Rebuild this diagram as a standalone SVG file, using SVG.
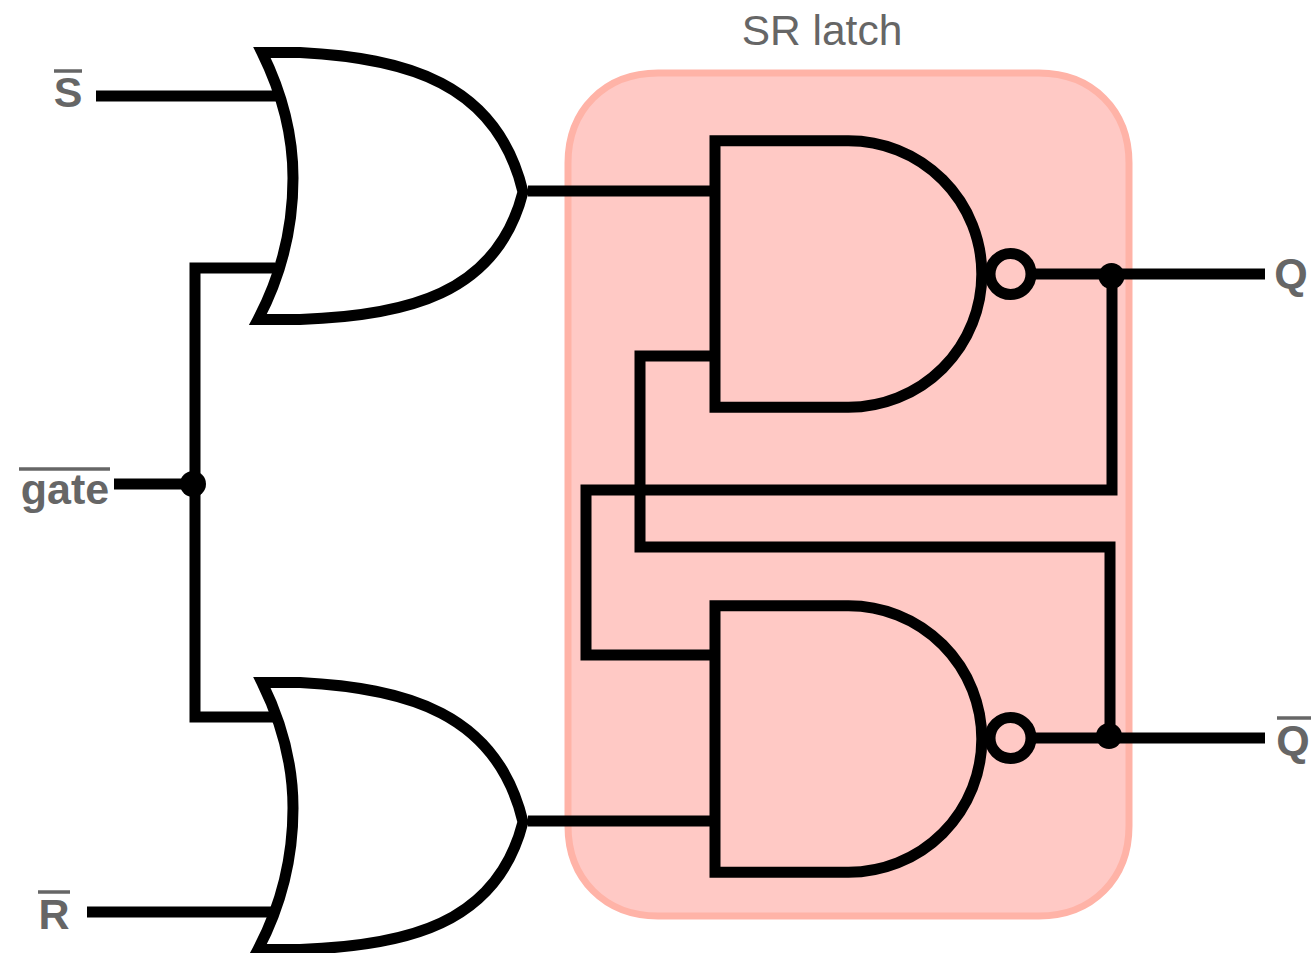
<svg xmlns="http://www.w3.org/2000/svg" width="1315" height="953" viewBox="0 0 1315 953">
<style>
.w{fill:none;stroke:#000;stroke-width:11;stroke-linejoin:miter;stroke-linecap:butt}
.g{fill:#fff;stroke:#000;stroke-width:11;stroke-linejoin:miter}
.n{fill:none;stroke:#000;stroke-width:11;stroke-linejoin:miter}
.d{fill:#000}
.l{font-family:"Liberation Sans",Arial,sans-serif;font-size:43px;font-weight:bold;fill:#666;text-anchor:middle}
.o{stroke:#666;stroke-width:3.5}
</style>
<defs>
<path id="orShape" d="M262,52.5 H300 C405,58 497,82 523,192 C497,295 405,316 300,319.5 H258 C283,272 293,225 293,178 C293,135 283,95 262,52.5 Z"/>
<path id="nandShape" d="M715,0 H848.5 A133.3,133.3 0 0 1 848.5,266.6 H715 Z"/>
</defs>
<g id="sr-latch">
<path d="M658,73 H1039 C1092,73 1129,110 1129,163 V826 C1129,879 1092,916 1039,916 H658 C605,916 568,879 568,826 V163 C568,110 605,73 658,73 Z" fill="#ffc9c5" stroke="#ffb3a7" stroke-width="7"/>
<text x="822" y="45" class="l" style="font-weight:normal;font-size:42.5px">SR latch</text>
</g>
<g id="connectors">
<path class="w" d="M96,96 H278"/>
<path class="w" d="M114,484 H193"/>
<path class="w" d="M275,268 H195 V717 H275"/>
<path class="w" d="M87,912 H272"/>
<path class="w" d="M528,191 H716"/>
<path class="w" d="M528,821 H716"/>
<path class="w" d="M1033,274 H1265"/>
<path class="w" d="M1033,738 H1265"/>
<path class="w" d="M1112,276 V490 H586 V655 H716"/>
<path class="w" d="M716,356 H640 V547 H1110 V736"/>
<circle class="d" cx="193" cy="484" r="13"/>
<circle class="d" cx="1111.5" cy="276" r="13"/>
<circle class="d" cx="1109" cy="736" r="13"/>
</g>
<g id="or-top"><use href="#orShape" class="g"/></g>
<g id="or-bottom"><use href="#orShape" class="g" y="630"/></g>
<g id="nand-top"><use href="#nandShape" class="n" y="140.7"/><circle class="n" cx="1010.5" cy="274" r="20.5"/></g>
<g id="nand-bottom"><use href="#nandShape" class="n" y="605.7"/><circle class="n" cx="1010.5" cy="738" r="20.5"/></g>
<g id="label-s"><text x="68" y="107" class="l">S</text><line class="o" x1="54" x2="82" y1="71" y2="71"/></g>
<g id="label-gate"><text x="65" y="504" class="l">gate</text><line class="o" x1="19" x2="110" y1="469" y2="469"/></g>
<g id="label-r"><text x="54" y="929" class="l">R</text><line class="o" x1="38" x2="70" y1="892" y2="892"/></g>
<g id="label-q"><text x="1291" y="288" class="l">Q</text></g>
<g id="label-qbar"><text x="1293" y="755" class="l">Q</text><line class="o" x1="1277" x2="1311" y1="718" y2="718"/></g>
</svg>
